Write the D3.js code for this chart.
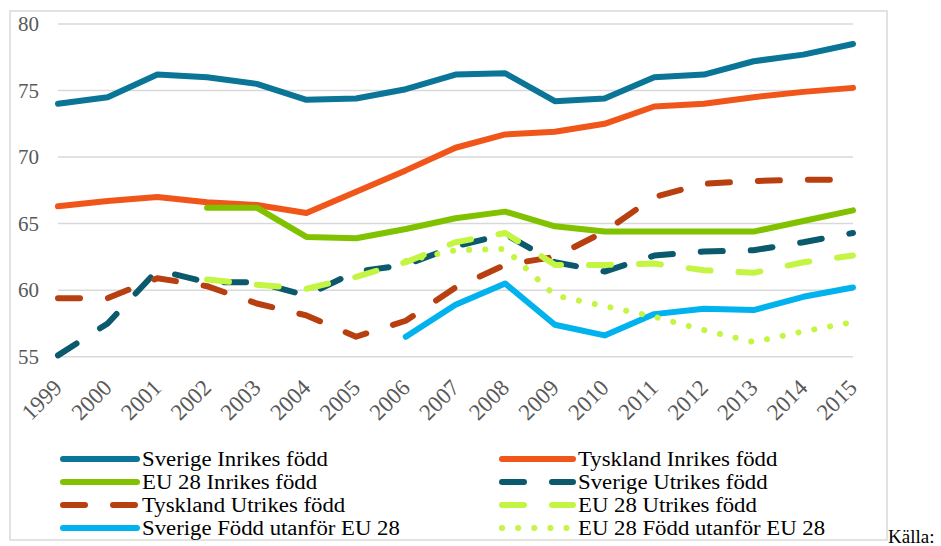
<!DOCTYPE html>
<html><head><meta charset="utf-8">
<script src="https://cdn.jsdelivr.net/npm/d3@7"></script>
<style>body{margin:0;background:#fff}svg{display:block}</style>
</head><body>
<svg id="c" width="941" height="546"></svg>
<script>
const years = ["1999","2000","2001","2002","2003","2004","2005","2006","2007","2008","2009","2010","2011","2012","2013","2014","2015"];
const yTicks = [55,60,65,70,75,80];

const sverigeInrikes   = [74.0,74.5,76.2,76.0,75.5,74.3,74.4,75.1,76.2,76.3,74.2,74.4,76.0,76.2,77.2,77.7,78.5];
const tysklandInrikes  = [66.3,66.7,67.0,66.6,66.4,65.8,67.4,69.0,70.7,71.7,71.9,72.5,73.8,74.0,74.5,74.9,75.2];
const eu28Inrikes      = [null,null,null,66.2,66.2,64.0,63.9,64.6,65.4,65.9,64.8,64.4,64.4,64.4,64.4,65.2,66.0];
const sverigeUtrikes   = [55.1,57.5,61.5,60.6,60.6,59.6,61.4,61.9,63.3,64.2,62.1,61.4,62.6,62.9,63.0,63.6,64.3];
const tysklandUtrikes  = [59.4,59.4,60.9,60.3,59.0,58.1,56.5,57.7,60.2,61.9,62.5,64.4,67.0,68.0,68.2,68.3,68.3];
const eu28Utrikes      = [null,null,null,60.8,60.4,60.1,61.0,62.1,63.6,64.3,61.9,61.9,62.0,61.5,61.3,62.1,62.6];
const sverigeUtanforEU = [null,null,null,null,null,null,null,56.5,58.9,60.5,57.4,56.6,58.2,58.6,58.5,59.5,60.2];
const eu28UtanforEU    = [null,null,null,null,null,null,null,62.2,63.0,63.1,59.6,58.8,58.0,57.0,56.1,56.9,57.6];

const seriesNames = ["Sverige Inrikes född","Tyskland Inrikes född","EU 28 Inrikes född","Sverige Utrikes född",
  "Tyskland Utrikes född","EU 28 Utrikes född","Sverige Född utanför EU 28","EU 28 Född utanför EU 28"];
const seriesValues = [sverigeInrikes,tysklandInrikes,eu28Inrikes,sverigeUtrikes,tysklandUtrikes,eu28Utrikes,sverigeUtanforEU,eu28UtanforEU];
const seriesColors = ["#0a7597","#f0561a","#80c200","#0b596d","#b83f10","#c4f542","#00b2ee","#c4f542"];
const seriesDash   = ["none","none","none","22 28","22 28","22 28","none","0.1 16"];

const svg = d3.select("#c");
const serif = "'Liberation Serif','Times New Roman',serif";

// chart border
svg.append("rect").attr("x",10).attr("y",11).attr("width",877).attr("height",529)
  .attr("fill","none").attr("stroke","#d9d9d9").attr("stroke-width",1.5);

const x = d3.scalePoint().domain(years).range([58,853]);
const y = d3.scaleLinear().domain([55,80]).range([356.7,24]);

// gridlines
svg.append("g").selectAll("line").data(yTicks).join("line")
  .attr("x1",58).attr("x2",853).attr("y1",d=>y(d)).attr("y2",d=>y(d))
  .attr("stroke","#d9d9d9").attr("stroke-width",1.5);

// y axis labels
const yAxis = d3.axisLeft(y).tickValues(yTicks).tickSize(0).tickPadding(0);
const gy = svg.append("g").attr("transform","translate(39,0)").call(yAxis);
gy.select(".domain").remove();
gy.selectAll("text").attr("font-family",serif).attr("font-size",21).attr("fill","#595959");

// x axis labels
const xAxis = d3.axisBottom(x).tickSize(0).tickPadding(0);
const gx = svg.append("g").attr("transform","translate(0,368)").call(xAxis);
gx.select(".domain").remove();
gx.selectAll("text").attr("font-family",serif).attr("font-size",23).attr("fill","#595959")
  .attr("text-anchor","end").attr("y",0).attr("dy","0").attr("dx","0")
  .attr("transform","translate(5,21) rotate(-45)");

// lines
const line = d3.line().defined(d=>d.v!=null).x(d=>x(d.year)).y(d=>y(d.v));
seriesValues.forEach((vals,i)=>{
  const pts = years.map((yr,j)=>({year:yr,v:vals[j]}));
  svg.append("path").datum(pts).attr("d",line)
    .attr("fill","none").attr("stroke",seriesColors[i]).attr("stroke-width",6)
    .attr("stroke-linecap","round").attr("stroke-linejoin","round")
    .attr("stroke-dasharray",seriesDash[i]);
});

// legend
const legRows = [459,482,505,528];
const legCols = [{x1:63,x2:137,tx:142},{x1:502,x2:573,tx:578}];
seriesNames.forEach((name,i)=>{
  const c = legCols[i%2], r = legRows[Math.floor(i/2)];
  const g = svg.append("g");
  g.append("line").attr("x1",c.x1).attr("x2",c.x2).attr("y1",r).attr("y2",r)
    .attr("stroke",seriesColors[i]).attr("stroke-width",6).attr("stroke-linecap","round")
    .attr("stroke-dasharray",seriesDash[i]);
  const t = g.append("text").attr("x",c.tx).attr("y",r).attr("dy","0.33em")
    .attr("font-family",serif).attr("font-size",20.5).attr("fill","#000").text(name);
  const w = t.node().getComputedTextLength();
  t.attr("textLength",w*1.11).attr("lengthAdjust","spacingAndGlyphs");
});

svg.append("text").attr("x",888).attr("y",536).attr("dy","0.35em")
  .attr("font-family",serif).attr("font-size",19).attr("fill","#000").text("Källa:");
</script>
</body></html>
